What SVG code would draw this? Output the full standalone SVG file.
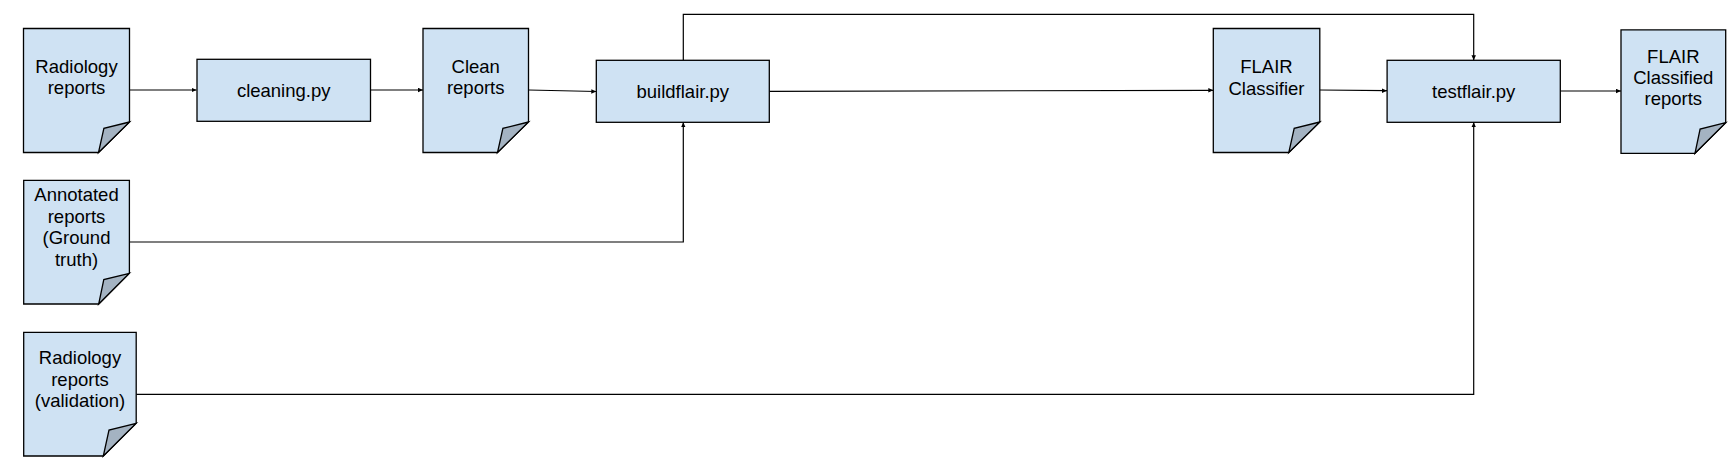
<svg xmlns="http://www.w3.org/2000/svg" width="1730" height="475" viewBox="0 0 1730 475">
<style>
.shape{fill:#cfe2f3;stroke:#000;stroke-width:1.3}
.fold{fill:#a4b3c2;stroke:#000;stroke-width:1.3;stroke-linejoin:miter}
.conn{fill:none;stroke:#000;stroke-width:1.2}
text{font-family:"Liberation Sans",Arial,sans-serif;font-size:18.5px;fill:#000;text-anchor:middle}
</style>
<defs>
<marker id="arr" markerUnits="userSpaceOnUse" markerWidth="6" markerHeight="6" refX="5" refY="2.25" orient="auto">
<path d="M0,0 L5,2.25 L0,4.5 Z" fill="#000"/>
</marker>
</defs>
<rect width="1730" height="475" fill="#fff"/>

<g id="connectors">
<path class="conn" d="M129.5,90 H196.5" marker-end="url(#arr)"/>
<path class="conn" d="M370.5,90 H423" marker-end="url(#arr)"/>
<path class="conn" d="M528.5,90 L596.3,91.5" marker-end="url(#arr)"/>
<path class="conn" d="M769.3,91.3 L1213.3,90.3" marker-end="url(#arr)"/>
<path class="conn" d="M1319.8,90 L1387,90.7" marker-end="url(#arr)"/>
<path class="conn" d="M1560.3,91 H1621" marker-end="url(#arr)"/>
<path class="conn" d="M683.3,60.3 V14.3 H1473.7 V60.3" marker-end="url(#arr)"/>
<path class="conn" d="M129.4,242 H683.3 V122.3" marker-end="url(#arr)"/>
<path class="conn" d="M136.2,394.3 H1473.7 V122.3" marker-end="url(#arr)"/>
</g>

<g id="radiology-reports">
<path class="shape" d="M23.5,28.5 H129.5 V122 L98.5,152.5 H23.5 Z"/>
<path class="fold" d="M129.5,122 L103.9,128.3 L98.5,152.5 Z"/>
<text x="76.5" y="72.7">Radiology</text>
<text x="76.5" y="94">reports</text>
</g>

<g id="cleaning">
<rect class="shape" x="197" y="59.3" width="173.5" height="62"/>
<text x="283.7" y="97">cleaning.py</text>
</g>

<g id="clean-reports">
<path class="shape" d="M423,28.5 H528.5 V122 L497.5,152.5 H423 Z"/>
<path class="fold" d="M528.5,122 L502.9,128.3 L497.5,152.5 Z"/>
<text x="475.7" y="72.7">Clean</text>
<text x="475.7" y="94">reports</text>
</g>

<g id="buildflair">
<rect class="shape" x="596.3" y="60.3" width="173" height="62"/>
<text x="682.8" y="98">buildflair.py</text>
</g>

<g id="flair-classifier">
<path class="shape" d="M1213.3,28.5 H1319.8 V122 L1288.8,152.5 H1213.3 Z"/>
<path class="fold" d="M1319.8,122 L1294.2,128.3 L1288.8,152.5 Z"/>
<text x="1266.5" y="73.3">FLAIR</text>
<text x="1266.5" y="94.5">Classifier</text>
</g>

<g id="testflair">
<rect class="shape" x="1387.1" y="60.3" width="173.2" height="62"/>
<text x="1473.7" y="98">testflair.py</text>
</g>

<g id="flair-classified-reports">
<path class="shape" d="M1621,29.8 H1725.7 V122.7 L1695,153.3 H1621 Z"/>
<path class="fold" d="M1725.7,122.7 L1700.1,129 L1695,153.3 Z"/>
<text x="1673.3" y="62.7">FLAIR</text>
<text x="1673.3" y="84">Classified</text>
<text x="1673.3" y="105.3">reports</text>
</g>

<g id="annotated-reports">
<path class="shape" d="M23.7,180.3 H129.4 V273.3 L98.7,304 H23.7 Z"/>
<path class="fold" d="M129.4,273.3 L103.8,279.6 L98.7,304 Z"/>
<text x="76.5" y="201.3">Annotated</text>
<text x="76.5" y="222.8">reports</text>
<text x="76.5" y="244.3">(Ground</text>
<text x="76.5" y="265.8">truth)</text>
</g>

<g id="radiology-reports-validation">
<path class="shape" d="M23.7,332.3 H136.2 V423.3 L103.3,456 H23.7 Z"/>
<path class="fold" d="M136.2,423.3 L109,430 L103.3,456 Z"/>
<text x="80" y="364">Radiology</text>
<text x="80" y="385.5">reports</text>
<text x="80" y="407">(validation)</text>
</g>
</svg>
